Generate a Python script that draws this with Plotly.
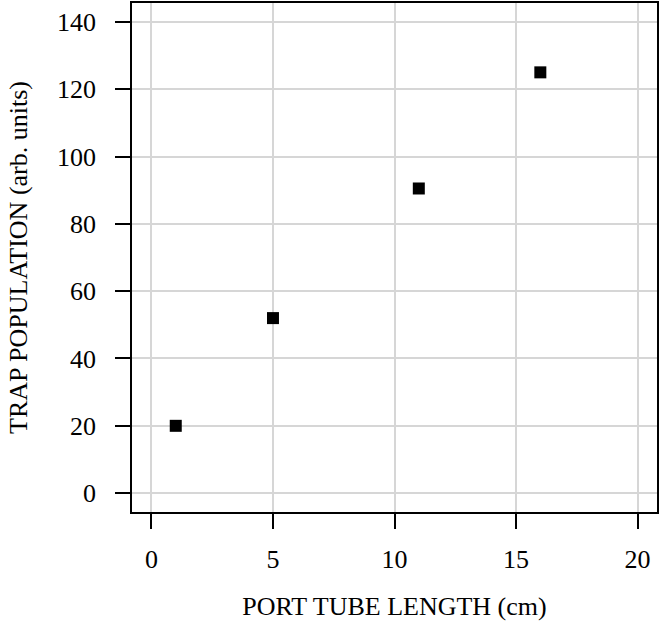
import plotly.graph_objects as go

tube_length_cm = [1, 5, 11, 16]
trap_population = [20, 52, 90.5, 125]

x_ticks = [0, 5, 10, 15, 20]
y_ticks = [0, 20, 40, 60, 80, 100, 120, 140]

FONT = "Liberation Serif, Times New Roman, serif"
FS = 26

fig = go.Figure(
    go.Scatter(
        x=tube_length_cm,
        y=trap_population,
        mode="markers",
        marker=dict(symbol="square", size=12, color="black", line=dict(width=0)),
        showlegend=False,
    )
)

axis_common = dict(
    showline=True,
    mirror=True,
    linecolor="black",
    linewidth=1.5,
    showgrid=True,
    gridcolor="#d6d6d6",
    gridwidth=1.5,
    zeroline=False,
    ticks="outside",
    ticklen=15,
    tickwidth=1.5,
    tickcolor="black",
    tickfont=dict(family=FONT, size=FS, color="black"),
)

fig.update_layout(
    width=669,
    height=639,
    margin=dict(l=132, r=12, t=3, b=127),
    plot_bgcolor="white",
    paper_bgcolor="white",
    font=dict(family=FONT, size=FS, color="black"),
    xaxis=dict(
        range=[-0.8, 20.8],
        tickvals=x_ticks,
        ticktext=[str(v) for v in x_ticks],
        ticklabelstandoff=8,
        title=dict(text="PORT TUBE LENGTH (cm)", font=dict(family=FONT, size=FS), standoff=24),
        automargin=False,
        **axis_common,
    ),
    yaxis=dict(
        range=[-5.6, 145.6],
        tickvals=y_ticks,
        ticktext=[str(v) for v in y_ticks],
        ticklabelstandoff=14,
        title=dict(text="TRAP POPULATION (arb. units)", font=dict(family=FONT, size=FS), standoff=22),
        automargin=False,
        **axis_common,
    ),
)

fig.write_html(
    "out.html",
    config={"displayModeBar": False},
    post_script="document.body.style.margin='0';document.body.style.overflow='hidden';",
)
